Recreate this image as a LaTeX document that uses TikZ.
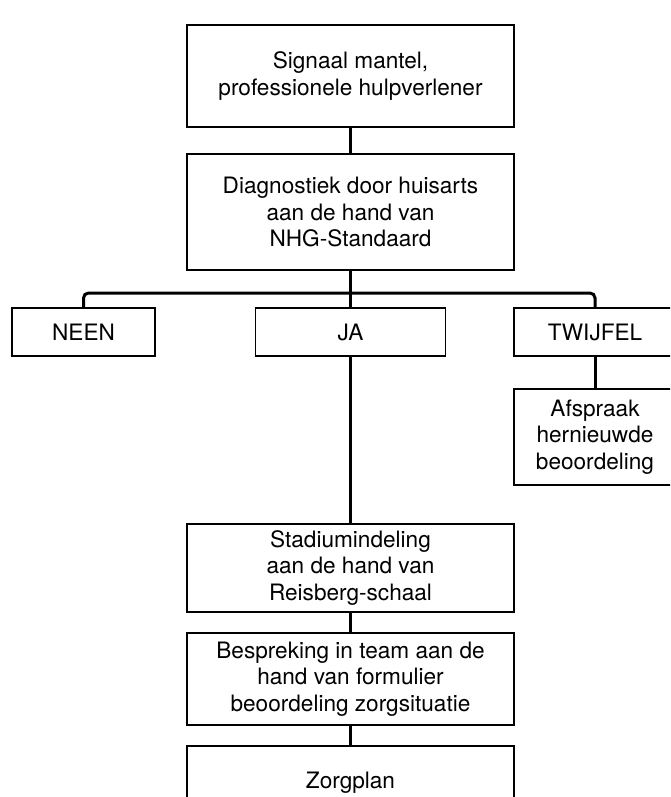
\documentclass[tikz,border=0pt]{standalone}
\usepackage{fontspec}
\setmainfont{TeX Gyre Heros}
\begin{document}
\begin{tikzpicture}[x=1pt,y=-1pt,
  box/.style={draw=black, line width=1.1pt, rectangle, inner sep=0pt, align=center,
    font=\fontsize{22.6}{26.5}\selectfont},
  conn/.style={draw=black, line width=3pt}]
\useasboundingbox (0,0) rectangle (670,797);
\clip (0,0) rectangle (670,797);
\node[box, minimum width=327pt, minimum height=102pt] (b1) at (350.5,76) {Signaal mantel,\\professionele hulpverlener};
\node[box, minimum width=327pt, minimum height=116pt] (b2) at (350.5,212) {Diagnostiek door huisarts\\aan de hand van\\NHG-Standaard};
\node[box, minimum width=143pt, minimum height=48pt] (neen) at (83.5,332) {NEEN};
\node[box, minimum width=190pt, minimum height=48pt] (ja) at (350.5,332) {JA};
\node[box, minimum width=162pt, minimum height=48pt] (twijfel) at (595,332) {TWIJFEL};
\node[box, minimum width=162pt, minimum height=96pt] (afspraak) at (595,437) {Afspraak\\hernieuwde\\beoordeling};
\node[box, minimum width=327pt, minimum height=88pt] (stad) at (350.5,568) {Stadiumindeling\\aan de hand van\\Reisberg-schaal};
\node[box, minimum width=327pt, minimum height=92pt] (besp) at (350.5,679) {Bespreking in team aan de\\hand van formulier\\beoordeling zorgsituatie};
\node[box, minimum width=327pt, minimum height=102pt] (zorg) at (350.5,797) {Zorgplan\\\strut};
\coordinate (bus) at (350.5,293);
\draw[conn] (b1.south) -- (b2.north);
\draw[conn] (b2.south) -- (ja.north);
\draw[conn, rounded corners=5pt] (neen.north) |- (bus) -| (twijfel.north);
\draw[conn] (twijfel.south) -- (afspraak.north);
\draw[conn] (ja.south) -- (stad.north);
\draw[conn] (stad.south) -- (besp.north);
\draw[conn] (besp.south) -- (zorg.north);
\end{tikzpicture}
\end{document}
